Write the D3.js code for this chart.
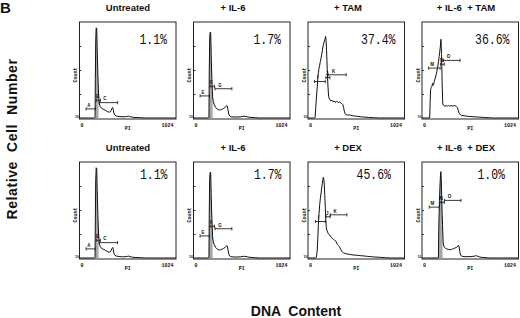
<!DOCTYPE html>
<html lang="en">
<head>
<meta charset="UTF-8">
<title>DNA content histograms</title>
<script src="https://d3js.org/d3.v7.min.js"></script>
<style>
  body { margin: 0; background: #fff; }
  svg text { fill: #111; }
</style>
</head>
<body>
<svg id="chart" width="520" height="318"></svg>
<script>
// two rows of four panels
const titles = ["Untreated", "+ IL-6", "+ TAM", "+ IL-6  + TAM",
                "Untreated", "+ IL-6", "+ DEX", "+ IL-6  + DEX"];
const subG1Pct = [1.1, 1.7, 37.4, 36.6, 1.1, 1.7, 45.6, 1.0];
const xTicks = [0, 1024];

// histograms: [PI channel, count (% of full scale)]
const histUntreated = [[0,0],[160,0],[165,0.5],[168,40],[172,80],[177,94],[183,93],[188,70],[195,45],[202,25],[210,15],
  [220,12],[235,10],[255,9],[275,8],[300,6.5],[320,6],[335,7.5],[345,10],[352,11],[358,9],[365,5],[375,3],[390,2],
  [420,1.5],[460,1.2],[500,1.5],[520,2],[535,1.5],[560,0.8],[600,0.5],[650,0.3],[700,0],[1024,0]];
const histIL6 = [[0,0],[160,0],[164,0.5],[167,45],[172,85],[178,89.5],[183,88],[188,65],[195,40],[203,22],[210,17],
  [220,14],[235,11],[250,9.5],[265,8.5],[285,8.5],[300,9],[320,10],[340,11.5],[352,13],[358,12.5],[365,9],[375,4],
  [385,2],[400,1.2],[450,1],[500,1.2],[530,1.8],[560,1.5],[590,0.8],[640,0.4],[700,0],[1024,0]];
const histTAM = [[0,0],[70,0],[75,0.5],[82,10],[89,21],[96,30],[103,40],[110,47],[117,52],[124,55],[131,59],[138,62],
  [145,66],[152,70],[160,75],[166,77],[173,80],[180,82],[187,85],[192,80],[197,70],[201,60],[206,45],[212,33],[217,25],
  [222,21],[232,19],[243,18],[255,18.5],[265,17],[278,17.5],[290,16],[300,17.5],[313,16.7],[325,16],[335,17],[348,15.6],
  [360,15],[370,13.9],[378,11],[384,7.6],[392,5],[401,3.5],[420,3],[440,3.2],[454,2.8],[480,2.2],[500,2],[524,1.7],
  [560,1.3],[594,1],[640,0.6],[699,0.3],[760,0],[1024,0]];
const histIL6TAM = [[0,0],[78,0],[82,1],[86,15],[91,29.5],[98,32],[105,33],[112,36],[118,34],[123,35],[130,38],[141,41.7],
  [150,45],[158,48.6],[166,53],[175,59],[182,64],[189,69.4],[194,74],[198,79],[201,82],[204,75],[207,66],[211,50],
  [214,34.7],[218,22],[221,14.6],[230,13],[246,12.4],[260,12.8],[270,12.3],[281,13],[295,12.4],[315,12.8],[330,12.3],
  [340,13],[351,12.8],[365,12],[375,11.1],[385,8],[393,5.2],[405,3.5],[420,2.8],[450,2.3],[491,1.7],[540,1.3],[596,1],
  [650,0.6],[701,0.3],[760,0],[1024,0]];
const histDEX = [[0,0],[82,0],[86,0.5],[92,3],[97,7],[104,20],[110,34.7],[117,46],[124,55.6],[131,62],[139,67.7],[145,73],
  [152,78],[158,82],[163,84],[168,82],[173,76],[178,65],[184,52],[189,40],[194,32],[200,29],[208,27],[217,25],[226,24.3],
  [235,23],[243,22.6],[252,21],[261,20.1],[270,19.5],[278,19],[287,18],[296,17.4],[305,15.5],[313,13.9],[322,13],
  [331,12.2],[340,10.5],[348,8.7],[357,7.2],[366,6.2],[380,5.2],[401,4.5],[425,4],[454,3.5],[490,3],[524,2.8],[560,2.4],
  [594,2.1],[630,1.7],[664,1.4],[710,1],[769,0.7],[820,0.3],[870,0],[1024,0]];
const histIL6DEX = [[0,0],[170,0],[174,0.5],[178,30],[185,60],[192,78],[197,88],[201,90],[205,80],[210,60],[214,45],
  [218,35],[222,22],[225,15.6],[232,12.5],[239,11.1],[250,10],[263,9.4],[280,9],[298,8.7],[315,9],[333,9.7],[350,10.4],
  [368,11.1],[380,12.5],[386,13.2],[391,12.5],[396,10.4],[403,6],[410,2.8],[425,1.8],[455,1.4],[500,1.4],[530,1.6],
  [560,2],[578,2.4],[595,1.6],[613,1],[640,0.6],[680,0.3],[720,0],[1024,0]];

// analysis gates: [label, from channel, to channel, count level]
const gatesUntreated = [["A",70,168,9.5],["B",178,222,18.5],["C",210,404,16]];
const gatesIL6 = [["E",70,170,23],["F",175,222,33],["G",228,407,30.5]];
const gatesTAM = [["I",68,184,38],["J",190,232,42],["K",215,405,45]];
const gatesIL6TAM = [["M",70,193,52],["N",196,236,56],["O",228,403,60]];
const gatesDEX = [["I",79,184,38],["J",190,235,43],["K",236,412,45]];
const gatesIL6DEX = [["M",77,183,53],["N",190,236,58],["O",239,414,60]];

// channel range of the dense G1 spike (prints grey)
const spikeUntreated = [166, 204];
const spikeIL6 = [164, 204];
const spikeIL6DEX = [174, 218];

const hists = [histUntreated, histIL6, histTAM, histIL6TAM, histUntreated, histIL6, histDEX, histIL6DEX];
const gates = [gatesUntreated, gatesIL6, gatesTAM, gatesIL6TAM, gatesUntreated, gatesIL6, gatesDEX, gatesIL6DEX];
const spikes = [spikeUntreated, spikeIL6, null, null, spikeUntreated, spikeIL6, null, spikeIL6DEX];

const svg = d3.select("#chart");
const sans = "'Liberation Sans', Arial, sans-serif";
const mono = "'Liberation Mono', 'Courier New', monospace";

// layout
const colLeft = [79.5, 193.5, 308, 422];
const rowTop = [22, 162];
const titleX = [128, 233, 348, 466];
const titleY = [11, 151];
const pctDy = [22, 16.5];
const pctInset = [9, 9, 9, 9, 8.5, 8.5, 13.5, 13.5];
const bw = 96.5, bh = 97;

svg.append("text").attr("x", 0).attr("y", 13)
  .style("font", `bold 15px ${sans}`).text("B");

svg.append("text")
  .attr("transform", "translate(17,139) rotate(-90)")
  .attr("text-anchor", "middle")
  .style("font", `bold 14px ${sans}`)
  .style("letter-spacing", "0.6px")
  .style("white-space", "pre")
  .text("Relative  Cell  Number");

svg.append("text")
  .attr("x", 296).attr("y", 316)
  .attr("text-anchor", "middle")
  .style("font", `bold 14px ${sans}`)
  .style("white-space", "pre")
  .text("DNA  Content");

hists.forEach((hist, i) => {
  const col = i % 4, row = Math.floor(i / 4);
  const left = colLeft[col], top = rowTop[row];
  const x = d3.scaleLinear().domain([0, 1024]).range([left, left + bw]);
  const y = d3.scaleLinear().domain([0, 100]).range([top + bh - 1, top]);
  const g = svg.append("g");

  g.append("text")
    .attr("x", titleX[col]).attr("y", titleY[row])
    .attr("text-anchor", "middle")
    .style("font", `bold 9.5px ${sans}`)
    .style("white-space", "pre")
    .text(titles[i]);

  if (spikes[i]) {
    const s = spikes[i];
    g.append("path")
      .datum(hist.filter(d => d[0] >= s[0] && d[0] <= s[1]))
      .attr("fill", "#a8a8a8")
      .attr("d", d3.area().x(d => x(d[0])).y0(y(0)).y1(d => y(d[1])));
  }

  g.append("path")
    .datum(hist)
    .attr("fill", "none")
    .attr("stroke", "#111")
    .attr("stroke-width", 1)
    .attr("stroke-linejoin", "round")
    .attr("d", d3.line().x(d => x(d[0])).y(d => y(d[1])));

  // gate markers
  gates[i].forEach(gt => {
    const x0 = x(gt[1]), x1 = x(gt[2]), yy = y(gt[3]);
    g.append("path")
      .attr("fill", "none").attr("stroke", "#222").attr("stroke-width", 0.9)
      .attr("d", `M${x0},${yy - 1.6}V${yy + 1.6}M${x0},${yy}H${x1}M${x1},${yy - 1.6}V${yy + 1.6}`);
    g.append("text")
      .attr("x", x0 + (x1 - x0) * 0.3).attr("y", yy - 2.2)
      .attr("text-anchor", "middle")
      .style("font", `bold 4.5px ${sans}`)
      .text(gt[0]);
  });

  g.append("rect")
    .attr("x", left).attr("y", top).attr("width", bw).attr("height", bh)
    .attr("fill", "none").attr("stroke", "#222").attr("stroke-width", 1);

  // left axis: short inward ticks only
  g.append("g")
    .attr("transform", `translate(${left},0)`)
    .call(d3.axisLeft(y).tickValues([25, 50, 75]).tickSize(-2).tickFormat(""))
    .call(a => a.select(".domain").remove())
    .selectAll("line").attr("stroke", "#333");

  // bottom axis labels
  g.append("g")
    .attr("transform", `translate(0,${top + bh})`)
    .call(d3.axisBottom(x).tickValues(xTicks).tickSize(0).tickPadding(4).tickFormat(d3.format("d")))
    .call(a => a.select(".domain").remove())
    .call(a => a.selectAll("text")
      .style("font", `bold 5px ${mono}`)
      .attr("fill", "#111")
      .attr("text-anchor", (d, j) => j === 0 ? "start" : "end")
      .attr("dx", (d, j) => j === 0 ? 0.5 : -3));

  g.append("text")
    .attr("x", left + bw / 2).attr("y", top + bh + 10.5)
    .attr("text-anchor", "middle")
    .style("font", `bold 5px ${mono}`)
    .text("PI");

  g.append("text")
    .attr("transform", `translate(${left - 2.3},${top + 53}) rotate(-90)`)
    .attr("text-anchor", "middle")
    .style("font", `bold 5px ${mono}`)
    .text("Count");

  g.append("text")
    .attr("x", left - 0.5).attr("y", top + bh - 1)
    .attr("text-anchor", "end")
    .style("font", `bold 3.5px ${sans}`)
    .text("10");

  g.append("text")
    .attr("x", left + bw - pctInset[i]).attr("y", top + pctDy[row])
    .attr("text-anchor", "end")
    .attr("textLength", (subG1Pct[i].toFixed(1).length + 1) * 6.9)
    .attr("lengthAdjust", "spacingAndGlyphs")
    .style("font", `14px ${mono}`)
    .text(subG1Pct[i].toFixed(1) + "%");
});
</script>
</body>
</html>
